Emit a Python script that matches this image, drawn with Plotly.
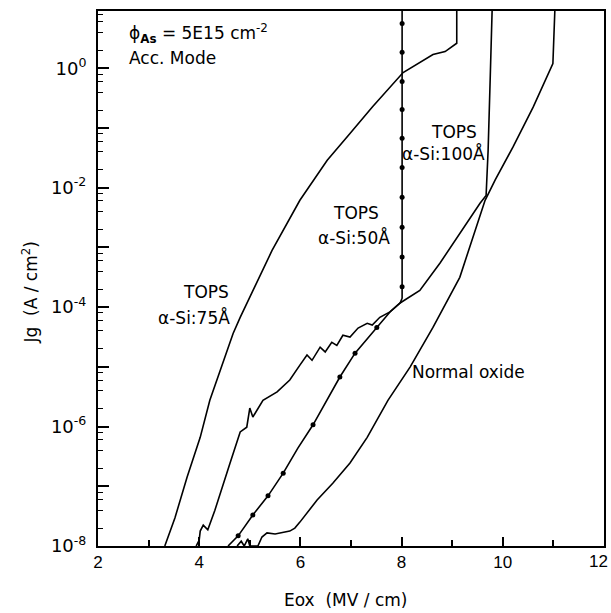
import plotly.graph_objects as go

# ---------------- data (Eox in MV/cm, Jg in A/cm^2) ----------------
x_75 = [3.32, 3.36, 3.42, 3.52, 3.76, 4.02, 4.21, 4.67, 4.81, 5.44, 5.99, 6.53, 6.98, 7.43, 8.03, 8.36, 8.62, 8.86, 9.09, 9.09]
logj_75 = [-8.0, -7.90, -7.75, -7.53, -6.85, -6.18, -5.56, -4.44, -4.17, -3.05, -2.21, -1.54, -1.09, -0.64, -0.07, 0.10, 0.23, 0.28, 0.42, 1.0]

x_100 = [3.94, 4.00, 4.02, 4.08, 4.17, 4.31, 4.61, 4.81, 4.94, 5.00, 5.06, 5.26, 5.54, 5.79, 5.99,
         6.13, 6.23, 6.39, 6.49, 6.62, 6.72, 6.84, 6.98, 7.14, 7.32, 7.42, 7.57, 7.77, 7.97,
         8.36, 8.76, 9.15, 9.55, 9.67, 9.71, 9.75, 9.79]
logj_100 = [-8.0, -7.90, -7.75, -7.65, -7.73, -7.40, -6.61, -6.09, -6.01, -5.69, -5.84, -5.56, -5.42, -5.22, -4.97,
            -4.80, -4.89, -4.67, -4.75, -4.59, -4.64, -4.47, -4.50, -4.35, -4.27, -4.30, -4.17, -4.08, -3.93,
            -3.72, -3.26, -2.76, -2.26, -2.13, -1.37, -0.20, 1.0]

x_50 = [4.57, 4.67, 4.77, 5.06, 5.36, 5.66, 5.95, 6.25, 6.53, 6.78, 7.08, 7.51, 7.77, 7.97, 8.01, 8.01]
logj_50 = [-8.0, -7.92, -7.83, -7.48, -7.16, -6.78, -6.36, -5.97, -5.56, -5.17, -4.77, -4.34, -4.08, -3.93, -3.85, 1.0]

# measured points (dots) on the 50 A curve
x_50_pts = [4.77, 5.06, 5.36, 5.66, 6.25, 6.78, 7.08, 7.51, 8.01, 8.01, 8.01, 8.01, 8.01, 8.01, 8.01, 8.01, 8.01, 8.01]
logj_50_pts = [-7.83, -7.48, -7.16, -6.78, -5.97, -5.17, -4.77, -4.34, -3.66, -3.16, -2.66, -2.16, -1.66, -1.17, -0.69, -0.22, 0.27, 0.75]

x_norm = [4.75, 4.83, 4.89, 4.96, 5.0, 5.16, 5.24, 5.34, 5.50, 5.66, 5.79, 5.89, 5.99, 6.33, 6.64, 6.98, 7.32,
          7.73, 8.17, 8.62, 9.15, 9.65, 9.85, 10.20, 10.60, 10.99, 11.03]
logj_norm = [-8.0, -7.92, -8.0, -7.88, -8.0, -8.0, -7.85, -7.78, -7.80, -7.77, -7.75, -7.70, -7.60, -7.23, -6.95, -6.61, -6.18,
             -5.56, -5.00, -4.34, -3.50, -2.21, -1.87, -1.32, -0.65, 0.08, 1.0]

x_ticks = [2, 4, 6, 8, 10, 12]
x_ticklabels = ["2", "4", "6", "8", "10", ""]   # the "12" sits at the page edge; drawn separately below
y_decades = [-8, -7, -6, -5, -4, -3, -2, -1, 0]

# --------------------------------------------------------------------
def p10(v):
    return [10 ** a for a in v]

FONT = "DejaVu Sans"
fig = go.Figure()
line = dict(color="black", width=1.6)
for xs, ys in [(x_75, logj_75), (x_100, logj_100), (x_50, logj_50), (x_norm, logj_norm)]:
    fig.add_trace(go.Scatter(x=xs, y=p10(ys), mode="lines", line=line, showlegend=False, cliponaxis=True))
fig.add_trace(go.Scatter(x=x_50_pts, y=p10(logj_50_pts), mode="markers",
                         marker=dict(color="black", size=5), showlegend=False))

major_vals = [10 ** d for d in y_decades]
major_text = [("10<sup>%d</sup>" % d) if d % 2 == 0 else "" for d in y_decades]
minor_vals = [m * 10 ** d for d in y_decades for m in (2, 4, 6, 8)]

fig.update_layout(
    width=611, height=613,
    margin=dict(l=98, r=7, t=11, b=67),
    paper_bgcolor="white", plot_bgcolor="white",
    font=dict(family=FONT, size=17, color="black"),
    xaxis=dict(range=[2, 12], showgrid=False, zeroline=False, automargin=False,
               showline=True, linecolor="black", linewidth=2, mirror=True,
               ticks="inside", ticklen=9, tickwidth=1.5, tickcolor="black",
               tickvals=x_ticks, ticktext=x_ticklabels,
               minor=dict(tickmode="array", tickvals=[3, 5, 7, 9, 11], ticks="inside",
                          ticklen=6, tickwidth=1.5, tickcolor="black"),
               tickfont=dict(family="Liberation Sans", size=17)),
    yaxis=dict(type="log", range=[-8, 0.96], showgrid=False, zeroline=False, automargin=False,
               showline=True, linecolor="black", linewidth=2, mirror=True,
               ticks="inside", ticklen=11, tickwidth=1.5, tickcolor="black",
               tickvals=major_vals, ticktext=major_text, ticklabelstandoff=6,
               minor=dict(tickmode="array", tickvals=minor_vals, ticks="inside",
                          ticklen=5, tickwidth=1.3, tickcolor="black"),
               tickfont=dict(size=18)),
)

# last x tick label, pulled just inside the page edge
fig.add_annotation(xref="x", yref="paper", x=x_ticks[-1], y=0, text=str(x_ticks[-1]),
                   xanchor="right", yanchor="top", xshift=6, yshift=-4, showarrow=False,
                   font=dict(family="Liberation Sans", size=17, color="black"))

ann = [
    dict(x=2.57, y=0.59, text="ϕ<sub><b>As</b></sub> = 5E15 cm<sup>-2</sup>", xanchor="left"),
    dict(x=2.57, y=0.17, text="Acc. Mode", xanchor="left"),
    dict(x=9.04, y=-1.07, text="TOPS", xanchor="center"),
    dict(x=8.82, y=-1.42, text="α-Si:100Å", xanchor="center"),
    dict(x=7.10, y=-2.43, text="TOPS", xanchor="center"),
    dict(x=7.06, y=-2.83, text="α-Si:50Å", xanchor="center"),
    dict(x=4.13, y=-3.75, text="TOPS", xanchor="center"),
    dict(x=3.90, y=-4.17, text="α-Si:75Å", xanchor="center"),
    dict(x=8.17, y=-5.09, text="Normal oxide", xanchor="left"),
]
for a in ann:
    fig.add_annotation(xref="x", yref="y", yanchor="middle", showarrow=False,
                       font=dict(family=FONT, size=17, color="black"), **a)

fig.add_annotation(xref="paper", yref="paper", x=0.49, y=-0.10, text="Eox  (MV / cm)",
                   showarrow=False, xanchor="center", yanchor="middle",
                   font=dict(family=FONT, size=17, color="black"))
fig.add_annotation(xref="paper", yref="paper", x=-0.135, y=0.475, text="Jg  (A / cm<sup>2</sup>)",
                   showarrow=False, xanchor="center", yanchor="middle", textangle=-90,
                   font=dict(family=FONT, size=17, color="black"))

fig.write_html("out.html")
